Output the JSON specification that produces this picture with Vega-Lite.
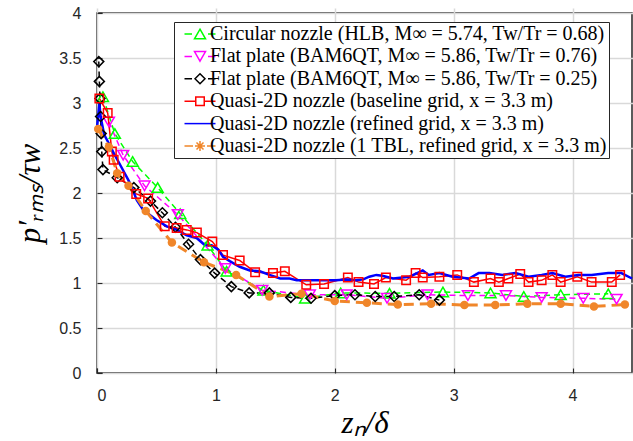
{
  "$schema": "https://vega.github.io/schema/vega-lite/v6.json",
  "width": 535,
  "height": 360,
  "autosize": {"type": "none"},
  "padding": {"left": 97, "top": 13, "right": 1, "bottom": 68},
  "background": "white",
  "config": {
    "view": {"stroke": "#262626", "strokeWidth": 1.5},
    "axis": {
      "labelFont": "Liberation Sans",
      "labelFontSize": 16,
      "labelColor": "#262626",
      "titleFont": "Liberation Serif",
      "titleFontStyle": "italic",
      "titleFontWeight": "normal",
      "titleFontSize": 31,
      "titleColor": "#000000",
      "gridColor": "#d9d9d9",
      "gridWidth": 1.5,
      "gridOpacity": 1,
      "domain": false,
      "tickColor": "#262626",
      "tickWidth": 1.2,
      "tickSize": 5,
      "offset": -5,
      "format": "~g"
    },
    "legend": {
      "strokeColor": "#262626", "fillColor": "white", "padding": 2,
      "labelFont": "Liberation Serif", "labelFontSize": 20, "labelColor": "#000000",
      "symbolSize": 4, "symbolStrokeWidth": 1.5,
      "symbolOffset": 14, "labelOffset": 0, "rowPadding": 2.4, "labelLimit": 600
    }
  },
  "datasets": {
    "d": [
      {"s": "A", "x": 0.05, "y": 3.07}, {"s": "A", "x": 0.15, "y": 2.66}, {"s": "A", "x": 0.30, "y": 2.35}, {"s": "A", "x": 0.51, "y": 2.06},
      {"s": "A", "x": 0.70, "y": 1.77}, {"s": "A", "x": 0.93, "y": 1.42}, {"s": "A", "x": 1.09, "y": 1.13}, {"s": "A", "x": 1.40, "y": 0.92},
      {"s": "A", "x": 1.75, "y": 0.83}, {"s": "A", "x": 2.05, "y": 0.89}, {"s": "A", "x": 2.46, "y": 0.885}, {"s": "A", "x": 2.91, "y": 0.90},
      {"s": "A", "x": 3.31, "y": 0.89}, {"s": "A", "x": 3.59, "y": 0.85}, {"s": "A", "x": 3.90, "y": 0.87}, {"s": "A", "x": 4.30, "y": 0.88},

      {"s": "B", "x": 0.10, "y": 2.79}, {"s": "B", "x": 0.22, "y": 2.42}, {"s": "B", "x": 0.40, "y": 2.08}, {"s": "B", "x": 0.68, "y": 1.76},
      {"s": "B", "x": 1.08, "y": 1.16}, {"s": "B", "x": 1.39, "y": 0.92}, {"s": "B", "x": 1.79, "y": 0.87}, {"s": "B", "x": 2.10, "y": 0.87},
      {"s": "B", "x": 2.44, "y": 0.83}, {"s": "B", "x": 2.78, "y": 0.87}, {"s": "B", "x": 3.12, "y": 0.86}, {"s": "B", "x": 3.44, "y": 0.86},
      {"s": "B", "x": 3.74, "y": 0.84}, {"s": "B", "x": 4.09, "y": 0.83}, {"s": "B", "x": 4.37, "y": 0.82},

      {"s": "C", "x": 0.015, "y": 3.46}, {"s": "C", "x": 0.02, "y": 3.24}, {"s": "C", "x": 0.025, "y": 3.05}, {"s": "C", "x": 0.03, "y": 2.85},
      {"s": "C", "x": 0.035, "y": 2.66}, {"s": "C", "x": 0.04, "y": 2.46}, {"s": "C", "x": 0.05, "y": 2.26}, {"s": "C", "x": 0.17, "y": 2.17},
      {"s": "C", "x": 0.31, "y": 2.06}, {"s": "C", "x": 0.45, "y": 1.91}, {"s": "C", "x": 0.55, "y": 1.78}, {"s": "C", "x": 0.66, "y": 1.62},
      {"s": "C", "x": 0.77, "y": 1.43}, {"s": "C", "x": 0.87, "y": 1.26}, {"s": "C", "x": 0.99, "y": 1.11}, {"s": "C", "x": 1.13, "y": 0.96},
      {"s": "C", "x": 1.28, "y": 0.89}, {"s": "C", "x": 1.45, "y": 0.89}, {"s": "C", "x": 1.63, "y": 0.84}, {"s": "C", "x": 1.80, "y": 0.83},
      {"s": "C", "x": 2.00, "y": 0.86}, {"s": "C", "x": 2.17, "y": 0.87}, {"s": "C", "x": 2.34, "y": 0.85}, {"s": "C", "x": 2.50, "y": 0.85},
      {"s": "C", "x": 2.71, "y": 0.87}, {"s": "C", "x": 2.88, "y": 0.81},

      {"s": "D", "x": 0.02, "y": 3.05}, {"s": "D", "x": 0.09, "y": 2.89}, {"s": "D", "x": 0.125, "y": 2.46}, {"s": "D", "x": 0.14, "y": 2.37},
      {"s": "D", "x": 0.19, "y": 2.18}, {"s": "D", "x": 0.33, "y": 1.99}, {"s": "D", "x": 0.43, "y": 1.94}, {"s": "D", "x": 0.57, "y": 1.63},
      {"s": "D", "x": 0.67, "y": 1.61}, {"s": "D", "x": 0.755, "y": 1.59}, {"s": "D", "x": 0.84, "y": 1.56}, {"s": "D", "x": 0.97, "y": 1.46},
      {"s": "D", "x": 1.06, "y": 1.31}, {"s": "D", "x": 1.20, "y": 1.25}, {"s": "D", "x": 1.33, "y": 1.12}, {"s": "D", "x": 1.48, "y": 1.11},
      {"s": "D", "x": 1.58, "y": 1.13}, {"s": "D", "x": 1.76, "y": 0.98}, {"s": "D", "x": 1.91, "y": 0.99}, {"s": "D", "x": 2.11, "y": 1.06},
      {"s": "D", "x": 2.20, "y": 1.01}, {"s": "D", "x": 2.33, "y": 0.99}, {"s": "D", "x": 2.43, "y": 1.06}, {"s": "D", "x": 2.60, "y": 1.03},
      {"s": "D", "x": 2.68, "y": 1.11}, {"s": "D", "x": 2.74, "y": 1.06}, {"s": "D", "x": 2.88, "y": 1.07}, {"s": "D", "x": 3.03, "y": 1.09},
      {"s": "D", "x": 3.17, "y": 1.01}, {"s": "D", "x": 3.31, "y": 1.05}, {"s": "D", "x": 3.38, "y": 1.01}, {"s": "D", "x": 3.46, "y": 1.05},
      {"s": "D", "x": 3.56, "y": 1.10}, {"s": "D", "x": 3.63, "y": 1.01}, {"s": "D", "x": 3.74, "y": 1.03}, {"s": "D", "x": 3.83, "y": 1.09},
      {"s": "D", "x": 3.90, "y": 1.01}, {"s": "D", "x": 4.04, "y": 1.07}, {"s": "D", "x": 4.16, "y": 1.01}, {"s": "D", "x": 4.33, "y": 1.01},
      {"s": "D", "x": 4.40, "y": 1.09},

      {"s": "E", "x": 0.0, "y": 2.72}, {"s": "E", "x": 0.02, "y": 3.0}, {"s": "E", "x": 0.03, "y": 2.85}, {"s": "E", "x": 0.06, "y": 2.65},
      {"s": "E", "x": 0.10, "y": 2.55}, {"s": "E", "x": 0.15, "y": 2.42}, {"s": "E", "x": 0.20, "y": 2.30}, {"s": "E", "x": 0.265, "y": 2.14},
      {"s": "E", "x": 0.29, "y": 2.07}, {"s": "E", "x": 0.335, "y": 1.92}, {"s": "E", "x": 0.39, "y": 1.81}, {"s": "E", "x": 0.50, "y": 1.70},
      {"s": "E", "x": 0.587, "y": 1.63}, {"s": "E", "x": 0.67, "y": 1.59}, {"s": "E", "x": 0.755, "y": 1.53}, {"s": "E", "x": 0.838, "y": 1.50},
      {"s": "E", "x": 0.908, "y": 1.42}, {"s": "E", "x": 0.964, "y": 1.42}, {"s": "E", "x": 1.02, "y": 1.37}, {"s": "E", "x": 1.06, "y": 1.29},
      {"s": "E", "x": 1.12, "y": 1.24}, {"s": "E", "x": 1.20, "y": 1.18}, {"s": "E", "x": 1.285, "y": 1.14}, {"s": "E", "x": 1.37, "y": 1.13},
      {"s": "E", "x": 1.45, "y": 1.09}, {"s": "E", "x": 1.54, "y": 1.05}, {"s": "E", "x": 1.62, "y": 1.05}, {"s": "E", "x": 1.68, "y": 1.03},
      {"s": "E", "x": 1.84, "y": 1.03}, {"s": "E", "x": 2.01, "y": 1.03}, {"s": "E", "x": 2.10, "y": 1.04}, {"s": "E", "x": 2.18, "y": 1.03},
      {"s": "E", "x": 2.24, "y": 1.04}, {"s": "E", "x": 2.29, "y": 1.07}, {"s": "E", "x": 2.35, "y": 1.09}, {"s": "E", "x": 2.40, "y": 1.08},
      {"s": "E", "x": 2.49, "y": 1.05}, {"s": "E", "x": 2.63, "y": 1.07}, {"s": "E", "x": 2.74, "y": 1.14}, {"s": "E", "x": 2.79, "y": 1.09},
      {"s": "E", "x": 2.88, "y": 1.11}, {"s": "E", "x": 2.99, "y": 1.07}, {"s": "E", "x": 3.13, "y": 1.05}, {"s": "E", "x": 3.21, "y": 1.11},
      {"s": "E", "x": 3.30, "y": 1.11}, {"s": "E", "x": 3.41, "y": 1.09}, {"s": "E", "x": 3.52, "y": 1.11}, {"s": "E", "x": 3.63, "y": 1.07},
      {"s": "E", "x": 3.74, "y": 1.09}, {"s": "E", "x": 3.83, "y": 1.11}, {"s": "E", "x": 3.94, "y": 1.07}, {"s": "E", "x": 4.05, "y": 1.09},
      {"s": "E", "x": 4.16, "y": 1.09}, {"s": "E", "x": 4.30, "y": 1.11}, {"s": "E", "x": 4.41, "y": 1.11}, {"s": "E", "x": 4.5, "y": 1.05},

      {"s": "F", "x": 0.01, "y": 2.71}, {"s": "F", "x": 0.10, "y": 2.51}, {"s": "F", "x": 0.17, "y": 2.22}, {"s": "F", "x": 0.265, "y": 2.08},
      {"s": "F", "x": 0.41, "y": 1.80}, {"s": "F", "x": 0.63, "y": 1.45}, {"s": "F", "x": 0.90, "y": 1.23}, {"s": "F", "x": 1.17, "y": 1.09},
      {"s": "F", "x": 1.45, "y": 0.85}, {"s": "F", "x": 1.72, "y": 0.88}, {"s": "F", "x": 2.00, "y": 0.80}, {"s": "F", "x": 2.27, "y": 0.78},
      {"s": "F", "x": 2.53, "y": 0.76}, {"s": "F", "x": 2.81, "y": 0.77}, {"s": "F", "x": 3.09, "y": 0.755}, {"s": "F", "x": 3.35, "y": 0.755},
      {"s": "F", "x": 3.62, "y": 0.77}, {"s": "F", "x": 3.90, "y": 0.77}, {"s": "F", "x": 4.18, "y": 0.74}, {"s": "F", "x": 4.44, "y": 0.76}
    ]
  },
  "data": {"name": "d"},
  "encoding": {
    "x": {"field": "x", "type": "quantitative", "scale": {"domain": [0, 4.5], "nice": false, "zero": false},
          "axis": {"values": [0, 1, 2, 3, 4], "title": "zₙ/δ", "grid": true, "labelPadding": 14, "titleY": 64, "titleBaseline": "alphabetic"}},
    "y": {"field": "y", "type": "quantitative", "scale": {"domain": [0, 4], "nice": false, "zero": false},
          "axis": {"values": [0, 0.5, 1, 1.5, 2, 2.5, 3, 3.5, 4], "title": "p′ᵣₘₛ/τw", "grid": true, "labelPadding": 16, "titlePadding": 12}}
  },
  "layer": [
    {
      "transform": [{"filter": {"field": "s", "equal": "A"}}],
      "mark": {"type": "line", "color": "#00ff00", "strokeWidth": 1.5, "strokeDash": [6, 4]}
    },
    {
      "transform": [{"filter": {"field": "s", "equal": "B"}}],
      "mark": {"type": "line", "color": "#ff00ff", "strokeWidth": 1.5, "strokeDash": [6, 4]}
    },
    {
      "transform": [{"filter": {"field": "s", "equal": "C"}}],
      "mark": {"type": "line", "color": "#000000", "strokeWidth": 1.5, "strokeDash": [6, 4]}
    },
    {
      "transform": [{"filter": {"field": "s", "equal": "D"}}],
      "mark": {"type": "line", "color": "#ff0000", "strokeWidth": 1.5}
    },
    {
      "transform": [{"filter": {"field": "s", "equal": "E"}}],
      "mark": {"type": "line", "color": "#0000ff", "strokeWidth": 2.5}
    },
    {
      "transform": [{"filter": {"field": "s", "equal": "F"}}],
      "mark": {"type": "line", "color": "#f0862a", "strokeWidth": 3, "strokeDash": [10, 6]}
    },
    {
      "transform": [{"filter": {"field": "s", "equal": "A"}}],
      "mark": {"type": "point", "shape": "triangle-up", "size": 121, "filled": false, "strokeWidth": 1.5, "opacity": 1, "color": "#00ff00"}
    },
    {
      "transform": [{"filter": {"field": "s", "equal": "B"}}],
      "mark": {"type": "point", "shape": "triangle-down", "size": 121, "filled": false, "strokeWidth": 1.5, "opacity": 1, "color": "#ff00ff"}
    },
    {
      "transform": [{"filter": {"field": "s", "equal": "C"}}],
      "mark": {"type": "point", "shape": "diamond", "size": 100, "filled": false, "strokeWidth": 1.5, "opacity": 1, "color": "#000000"}
    },
    {
      "transform": [{"filter": {"field": "s", "equal": "D"}}],
      "mark": {"type": "point", "shape": "square", "size": 72, "filled": false, "strokeWidth": 1.5, "opacity": 1, "color": "#ff0000"}
    },
    {
      "transform": [{"filter": {"field": "s", "equal": "F"}}],
      "mark": {"type": "circle", "size": 72, "opacity": 1, "color": "#f0862a"}
    },
    {
      "transform": [{"filter": "false"}],
      "mark": {"type": "point", "filled": false, "size": 4, "opacity": 1},
      "encoding": {
        "color": {"field": "s", "type": "nominal",
                  "scale": {"domain": ["A", "B", "C", "D", "E", "F"], "range": ["#00ff00", "#ff00ff", "#000000", "#ff0000", "#0000ff", "#f0862a"]},
                  "legend": {"title": null, "orient": "none", "legendX": 77, "legendY": 9,
                             "labelExpr": "datum.label == 'A' ? 'Circular nozzle (HLB, M∞ = 5.74, Tw/Tr = 0.68)' : datum.label == 'B' ? 'Flat plate (BAM6QT, M∞ = 5.86, Tw/Tr = 0.76)' : datum.label == 'C' ? 'Flat plate (BAM6QT, M∞ = 5.86, Tw/Tr = 0.25)' : datum.label == 'D' ? 'Quasi-2D nozzle (baseline grid, x = 3.3 m)' : datum.label == 'E' ? 'Quasi-2D nozzle (refined grid, x = 3.3 m)' : 'Quasi-2D nozzle (1 TBL, refined grid, x = 3.3 m)'"}},
        "shape": {"field": "s", "type": "nominal",
                  "legend": {"title": null, "orient": "none", "legendX": 77, "legendY": 9,
                             "labelExpr": "datum.label == 'A' ? 'Circular nozzle (HLB, M∞ = 5.74, Tw/Tr = 0.68)' : datum.label == 'B' ? 'Flat plate (BAM6QT, M∞ = 5.86, Tw/Tr = 0.76)' : datum.label == 'C' ? 'Flat plate (BAM6QT, M∞ = 5.86, Tw/Tr = 0.25)' : datum.label == 'D' ? 'Quasi-2D nozzle (baseline grid, x = 3.3 m)' : datum.label == 'E' ? 'Quasi-2D nozzle (refined grid, x = 3.3 m)' : 'Quasi-2D nozzle (1 TBL, refined grid, x = 3.3 m)'"},
                  "scale": {"domain": ["A", "B", "C", "D", "E", "F"], "range": [
                    "M-15.5,0H-8M8,0H15.5M0,-4.8L5.5,4.8L-5.5,4.8Z",
                    "M-15.5,0H-8M8,0H15.5M0,4.8L5.5,-4.8L-5.5,-4.8Z",
                    "M-15.5,0H-8M8,0H15.5M-5,0L0,-5L5,0L0,5Z",
                    "M-15.5,0H-4.25M4.25,0H15.5M-4.25,-4.25H4.25V4.25H-4.25Z",
                    "M-15.5,0H15.5",
                    "M-15.5,0H-7M7,0H15.5M-5,0H5M0,-5V5M-3.5,-3.5L3.5,3.5M-3.5,3.5L3.5,-3.5"
                  ]}},
        "strokeWidth": {"field": "s", "type": "nominal",
                        "legend": {"title": null, "orient": "none", "legendX": 77, "legendY": 9,
                                   "labelExpr": "datum.label == 'A' ? 'Circular nozzle (HLB, M∞ = 5.74, Tw/Tr = 0.68)' : datum.label == 'B' ? 'Flat plate (BAM6QT, M∞ = 5.86, Tw/Tr = 0.76)' : datum.label == 'C' ? 'Flat plate (BAM6QT, M∞ = 5.86, Tw/Tr = 0.25)' : datum.label == 'D' ? 'Quasi-2D nozzle (baseline grid, x = 3.3 m)' : datum.label == 'E' ? 'Quasi-2D nozzle (refined grid, x = 3.3 m)' : 'Quasi-2D nozzle (1 TBL, refined grid, x = 3.3 m)'"},
                        "scale": {"domain": ["A", "B", "C", "D", "E", "F"], "range": [1.5, 1.5, 1.5, 1.5, 2.5, 3]}}
      }
    }
  ]
}
